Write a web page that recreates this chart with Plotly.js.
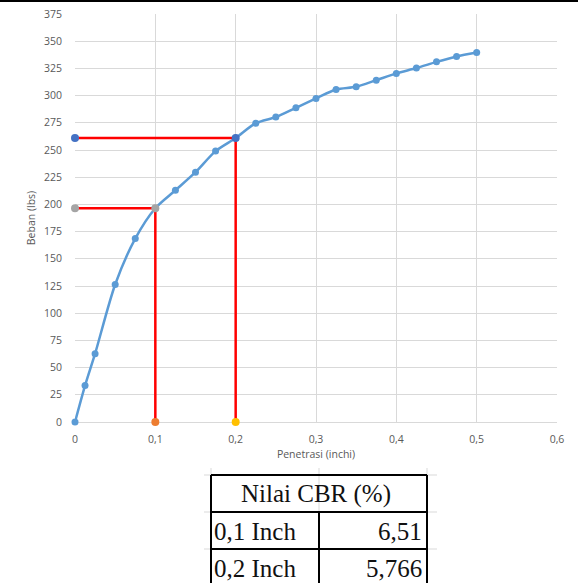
<!DOCTYPE html>
<html>
<head>
<meta charset="utf-8">
<script src="https://cdn.plot.ly/plotly-3.0.1.min.js"></script>
<style>
html,body{margin:0;padding:0;background:#fff;}
#chart{width:578px;height:583px;}
</style>
</head>
<body>
<div id="chart"></div>
<script>
// ---- data ----
var penetrasi = [0, 0.0125, 0.025, 0.05, 0.075, 0.1, 0.125, 0.15, 0.175, 0.2, 0.225, 0.25, 0.275, 0.3, 0.325, 0.35, 0.375, 0.4, 0.425, 0.45, 0.475, 0.5];
var beban = [0, 33.5, 62.8, 126.4, 168.6, 196.5, 213, 229.6, 249, 261, 274.6, 280.3, 288.8, 297.4, 305.6, 308.1, 314.2, 320.4, 325.3, 331, 336, 339.6];

var guide01X = [0, 0.1, 0.1];
var guide01Y = [196.5, 196.5, 0];
var guide02X = [0, 0.2, 0.2];
var guide02Y = [261, 261, 0];

var ptsBlueX = [0, 0.2];   var ptsBlueY = [261, 261];
var ptsGrayX = [0, 0.1];   var ptsGrayY = [196.5, 196.5];
var ptsOrangeX = [0.1];    var ptsOrangeY = [0];
var ptsYellowX = [0.2];    var ptsYellowY = [0];

var xTitle = "Penetrasi (inchi)";
var yTitle = "Beban (lbs)";

var tableHeader = "Nilai CBR (%)";
var tableLabels = ["0,1 Inch", "0,2 Inch"];
var tableValues = ["6,51", "5,766"];

// ---- geometry helpers (pixel -> paper) ----
var W = 578, H = 583, mL = 75, mR = 21, mT = 14, mB = 161;
var pw = W - mL - mR, ph = H - mT - mB;
function px(x){ return (x - mL) / pw; }
function py(y){ return (H - mB - y) / ph; }

var traces = [
  {x: penetrasi, y: beban, type: 'scatter', mode: 'lines+markers',
   line: {color: '#5B9BD5', width: 2.5, shape: 'spline', smoothing: 0.8},
   marker: {color: '#5B9BD5', size: 7}, cliponaxis: false, hoverinfo: 'x+y'},
  {x: guide01X, y: guide01Y, type: 'scatter', mode: 'lines',
   line: {color: '#FF0000', width: 2.5}, cliponaxis: false},
  {x: guide02X, y: guide02Y, type: 'scatter', mode: 'lines',
   line: {color: '#FF0000', width: 2.5}, cliponaxis: false},
  {x: ptsBlueX, y: ptsBlueY, type: 'scatter', mode: 'markers',
   marker: {color: '#4472C4', size: 8}, cliponaxis: false},
  {x: ptsGrayX, y: ptsGrayY, type: 'scatter', mode: 'markers',
   marker: {color: '#A5A5A5', size: 8}, cliponaxis: false},
  {x: ptsOrangeX, y: ptsOrangeY, type: 'scatter', mode: 'markers',
   marker: {color: '#ED7D31', size: 8}, cliponaxis: false},
  {x: ptsYellowX, y: ptsYellowY, type: 'scatter', mode: 'markers',
   marker: {color: '#FFC000', size: 8}, cliponaxis: false}
];

var shapes = [];
var annotations = [];
function hline(x0, x1, y, color, w){ shapes.push({type:'line', xref:'paper', yref:'paper', x0:px(x0), x1:px(x1), y0:py(y), y1:py(y), line:{color:color, width:w}, layer:'above'}); }
function vline(x, y0, y1, color, w){ shapes.push({type:'line', xref:'paper', yref:'paper', x0:px(x), x1:px(x), y0:py(y0), y1:py(y1), line:{color:color, width:w}, layer:'above'}); }

// top border of the screenshot
hline(0, W, 1, '#000000', 2);

// faint worksheet gridlines around the table
[475, 512, 549].forEach(function(y){ hline(204, 437, y, '#D9D9D9', 1); });
[211, 319, 427].forEach(function(x){ vline(x, 468, 590, '#D9D9D9', 1); });

// table borders
hline(211, 427, 475, '#000000', 2);
hline(211, 427, 512, '#000000', 2);
hline(211, 427, 549, '#000000', 2);
vline(211, 475, 590, '#000000', 2);
vline(427, 475, 590, '#000000', 2);
vline(319, 512, 590, '#000000', 2);

var serif = {family: 'Liberation Serif, Times New Roman, serif', size: 25, color: '#111111'};
annotations.push({xref:'paper', yref:'paper', x:px(316), y:py(494), text: tableHeader, showarrow:false, xanchor:'center', yanchor:'middle', font: serif});
var rowY = [531, 568];
for (var i = 0; i < tableLabels.length; i++) {
  annotations.push({xref:'paper', yref:'paper', x:px(212), y:py(rowY[i]), text: tableLabels[i], showarrow:false, xanchor:'left', yanchor:'middle', font: serif});
  annotations.push({xref:'paper', yref:'paper', x:px(424), y:py(rowY[i]), text: tableValues[i], showarrow:false, xanchor:'right', yanchor:'middle', font: serif});
}

var tickFont = {family: 'Open Sans, DejaVu Sans, sans-serif', size: 10.5, color: '#595959'};

var layout = {
  width: W, height: H,
  margin: {l: mL, r: mR, t: mT, b: mB, pad: 0},
  paper_bgcolor: '#FFFFFF', plot_bgcolor: '#FFFFFF',
  separators: ',.',
  showlegend: false,
  xaxis: {range: [0, 0.6], dtick: 0.1, tick0: 0, showgrid: true, gridcolor: '#D9D9D9', gridwidth: 1,
          zeroline: false, showline: false, ticks: '', tickfont: tickFont, ticklabelstandoff: 9,
          title: {text: xTitle, font: tickFont, standoff: 6}, fixedrange: true},
  yaxis: {range: [0, 375], dtick: 25, tick0: 0, showgrid: true, gridcolor: '#D9D9D9', gridwidth: 1,
          zeroline: true, zerolinecolor: '#D9D9D9', zerolinewidth: 1, showline: false, ticks: '',
          tickfont: tickFont, ticklabelstandoff: 12,
          title: {text: yTitle, font: tickFont, standoff: 6}, fixedrange: true},
  shapes: shapes,
  annotations: annotations
};

Plotly.newPlot('chart', traces, layout, {displayModeBar: false, staticPlot: true});
</script>
</body>
</html>
